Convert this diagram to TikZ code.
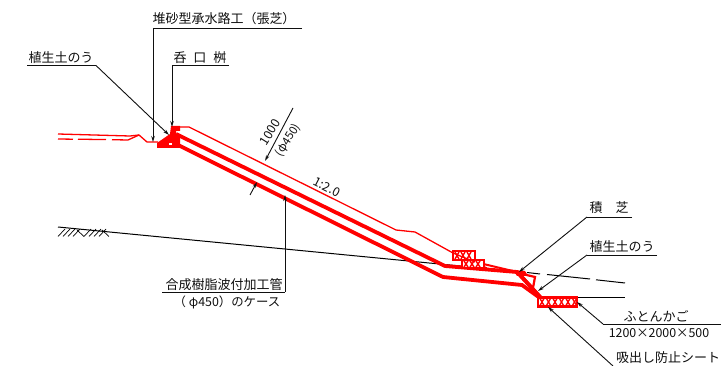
\documentclass[tikz,border=0pt]{standalone}
\usepackage{fontspec}
\setmainfont{Noto Sans CJK JP}
\usetikzlibrary{arrows.meta}
\definecolor{cadred}{RGB}{255,0,0}
\definecolor{ink}{RGB}{15,15,15}
\tikzset{
  lab/.style={inner sep=0pt,text=ink,font=\fontsize{13}{14}\selectfont},
  smalllab/.style={inner sep=0pt,text=ink,font=\fontsize{12.4}{13}\selectfont},
  thin red/.style={draw=cadred,line width=1.3pt},
  pipe/.style={draw=cadred,line width=3.8pt,line join=miter},
  lead/.style={draw=ink,line width=0.9pt},
  leadar/.style={lead,-{Stealth[length=6pt,width=3.5pt]}},
  cage/.style={draw=cadred,line width=2.4pt,fill=white},
  ground/.style={draw=black,line width=1pt},
}
\newcommand{\cagefill}[5]{% x0 x1 y0 y1 second-x
  \foreach \xx in {#1,#5,...,#2}{
    \draw[cadred,line width=1.4pt] (\xx,#3) -- ++(4,{#4-#3}) ;
    \draw[cadred,line width=1.4pt] (\xx+4,#3) -- ++(-4,{#4-#3}) ;
  }}
\begin{document}
\begin{tikzpicture}[x=1pt,y=-1pt]
\useasboundingbox (0,0) rectangle (721,366);
% labels
\node[lab,anchor=center] (tKansui) at (224,19) {堆砂型承水路工（張芝）};
\node[lab] (tShokuL) at (61,58) {植生土のう};
\node[lab] (tNomi) at (200,58) {呑\hspace{7pt}口\hspace{7pt}桝};
\node[lab] (tTsumi) at (609,208) {積\hspace{13pt}芝};
\node[lab] (tShokuR) at (622,247) {植生土のう};
\node[lab] (tFuton) at (656,316) {ふとんかご};
\node[smalllab] (tSize) at (659,333) {1200×2000×500};
\node[lab,anchor=west] (tSui) at (616,358) {吸出し防止シート};
\node[lab] (tGosei) at (224,285) {合成樹脂波付加工管};
\node[smalllab] (tCase) at (227,302) {（ φ450）のケース};
\node[smalllab,rotate=58] (tDim) at (270,132) {1000};
\node[smalllab,rotate=58,font=\fontsize{11.5}{12}\selectfont] (tDimB) at (288,140) {(φ450)};
\node[smalllab,rotate=-27] (tSlope) at (327,187) {1:2.0};
% reference coordinates
\coordinate (kA) at (302,28); \coordinate (kB) at (153,28); \coordinate (kT) at (153,142);
\coordinate (sA) at (27,65.5); \coordinate (sB) at (96,65.5); \coordinate (sT) at (169,135);
\coordinate (nA) at (229,65.5); \coordinate (nB) at (172,65.5); \coordinate (nT) at (172,127);
\coordinate (tA) at (632,217); \coordinate (tB) at (587,217); \coordinate (tT) at (519,272);
\coordinate (rA) at (657,255); \coordinate (rB) at (587,255); \coordinate (rT) at (538,291);
\coordinate (fA) at (721,324); \coordinate (fB) at (603,324); \coordinate (fT) at (577,302);
\coordinate (uA) at (613,366); \coordinate (uT) at (548,307);
\coordinate (gA) at (162,292); \coordinate (gB) at (285,292); \coordinate (gT) at (285,195);
\coordinate (dA) at (293,108); \coordinate (dB) at (265,161);
\coordinate (dC) at (250,195); \coordinate (dD) at (257,182);
% ground
\draw[ground] (58,227) -- (522,272);
\draw[ground] (527,272.5) -- (540,274);
\draw[ground] (547,274.5) -- (590,279);
\draw[ground] (596,279.8) -- (625,283);
\draw[ground,line width=0.8pt] (577,297) -- (625,297);
\foreach \a in {58,63,68,73,84,89,94,99}{\draw[ground,line width=0.7pt] (\a,236.5) -- (\a+7,229);}
\foreach \a in {77,102}{\draw[ground,line width=0.7pt] (\a,230) -- (\a+7,236.5);}
% top surface
\draw[thin red] (58,134) -- (130,136) -- (139,135) -- (147,142) -- (158,142);
\draw[thin red] (58,139) -- (73,139.2) (78,139.2) -- (106,139.6) (112,139.7) -- (128,140) -- (139,135);
\draw[thin red] (180,127) -- (189,127) -- (396,230) -- (415,232) -- (453,253);
\draw[thin red] (453,253) -- (487,268);
% pipes
\draw[pipe] (176,134) -- (445,266) -- (517,272) -- (540,297);
\draw[pipe] (176,144) -- (443,277) -- (522,285) -- (540,298);
\draw[cadred,line width=2pt] (475,262) -- (517,272);
\draw[cadred,line width=2.2pt] (514,272) -- (535,277) -- (533,288) (521,276) -- (533,288);
\draw[cadred,line width=2.5pt] (519,273) -- (541,297);
\fill[cadred] (513,270) -- (525,271) -- (528,276) -- (517,276) -- cycle;
% inlet
\fill[cadred] (157,148) -- (157,143) -- (170,134) -- (171,126) -- (180,126) -- (180,131) -- (176,131) -- (176,135) -- (180,135) -- (180,148) -- cycle;
\fill[white] (169,143) rectangle (172,145);
% gabions
\filldraw[cage] (453,251) rectangle (475,260);
\cagefill{455}{470}{252}{259}{461}
\filldraw[cage] (462,260) rectangle (484,268);
\cagefill{464}{479}{261}{267}{470}
\draw[thin red] (453,253) -- (475,262);
\filldraw[cage] (538,297.5) rectangle (577,306.5);
\cagefill{540}{573}{298.5}{305.5}{546.5}
% leaders
\draw[lead] (kA) -- (kB);
\draw[leadar] (kB) -- (kT);
\draw[lead] (sA) -- (sB);
\draw[leadar] (sB) -- (sT);
\draw[lead] (nA) -- (nB);
\draw[leadar] (nB) -- (nT);
\draw[lead] (tA) -- (tB);
\draw[leadar] (tB) -- (tT);
\draw[lead] (rA) -- (rB);
\draw[leadar] (rB) -- (rT);
\draw[lead] (fA) -- (fB);
\draw[leadar] (fB) -- (fT);
\draw[leadar] (uA) -- (uT);
\draw[lead] (gA) -- (gB);
\draw[leadar] (gB) -- (gT);
\draw[leadar] (dA) -- (dB);
\draw[leadar] (dC) -- (dD);
\end{tikzpicture}
\end{document}
